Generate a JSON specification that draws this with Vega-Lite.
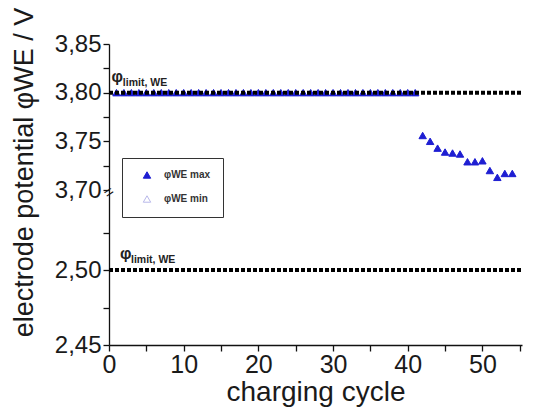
{
  "$schema": "https://vega.github.io/schema/vega-lite/v6.json",
  "width": 413,
  "height": 301,
  "autosize": {"type": "none"},
  "padding": {"left": 109, "top": 44, "right": 12, "bottom": 69},
  "background": "white",
  "config": {"view": {"stroke": null}, "font": "Liberation Sans"},
  "datasets": {
    "maxpts": [
      {"cycle": 1, "pot": 3.80, "series": "max"}, {"cycle": 2, "pot": 3.80, "series": "max"},
      {"cycle": 3, "pot": 3.80, "series": "max"}, {"cycle": 4, "pot": 3.80, "series": "max"},
      {"cycle": 5, "pot": 3.80, "series": "max"}, {"cycle": 6, "pot": 3.80, "series": "max"},
      {"cycle": 7, "pot": 3.80, "series": "max"}, {"cycle": 8, "pot": 3.80, "series": "max"},
      {"cycle": 9, "pot": 3.80, "series": "max"}, {"cycle": 10, "pot": 3.80, "series": "max"},
      {"cycle": 11, "pot": 3.80, "series": "max"}, {"cycle": 12, "pot": 3.80, "series": "max"},
      {"cycle": 13, "pot": 3.80, "series": "max"}, {"cycle": 14, "pot": 3.80, "series": "max"},
      {"cycle": 15, "pot": 3.80, "series": "max"}, {"cycle": 16, "pot": 3.80, "series": "max"},
      {"cycle": 17, "pot": 3.80, "series": "max"}, {"cycle": 18, "pot": 3.80, "series": "max"},
      {"cycle": 19, "pot": 3.80, "series": "max"}, {"cycle": 20, "pot": 3.80, "series": "max"},
      {"cycle": 21, "pot": 3.80, "series": "max"}, {"cycle": 22, "pot": 3.80, "series": "max"},
      {"cycle": 23, "pot": 3.80, "series": "max"}, {"cycle": 24, "pot": 3.80, "series": "max"},
      {"cycle": 25, "pot": 3.80, "series": "max"}, {"cycle": 26, "pot": 3.80, "series": "max"},
      {"cycle": 27, "pot": 3.80, "series": "max"}, {"cycle": 28, "pot": 3.80, "series": "max"},
      {"cycle": 29, "pot": 3.80, "series": "max"}, {"cycle": 30, "pot": 3.80, "series": "max"},
      {"cycle": 31, "pot": 3.80, "series": "max"}, {"cycle": 32, "pot": 3.80, "series": "max"},
      {"cycle": 33, "pot": 3.80, "series": "max"}, {"cycle": 34, "pot": 3.80, "series": "max"},
      {"cycle": 35, "pot": 3.80, "series": "max"}, {"cycle": 36, "pot": 3.80, "series": "max"},
      {"cycle": 37, "pot": 3.80, "series": "max"}, {"cycle": 38, "pot": 3.80, "series": "max"},
      {"cycle": 39, "pot": 3.80, "series": "max"}, {"cycle": 40, "pot": 3.80, "series": "max"},
      {"cycle": 41, "pot": 3.80, "series": "max"},
      {"cycle": 42, "pot": 3.756, "series": "max"}, {"cycle": 43, "pot": 3.750, "series": "max"},
      {"cycle": 44, "pot": 3.743, "series": "max"}, {"cycle": 45, "pot": 3.739, "series": "max"},
      {"cycle": 46, "pot": 3.738, "series": "max"}, {"cycle": 47, "pot": 3.737, "series": "max"},
      {"cycle": 48, "pot": 3.729, "series": "max"}, {"cycle": 49, "pot": 3.729, "series": "max"},
      {"cycle": 50, "pot": 3.730, "series": "max"}, {"cycle": 51, "pot": 3.720, "series": "max"},
      {"cycle": 52, "pot": 3.713, "series": "max"}, {"cycle": 53, "pot": 3.717, "series": "max"},
      {"cycle": 54, "pot": 3.717, "series": "max"}
    ],
    "limits": [
      {"cycle": 0, "cycle2": 55.3, "pot": 3.80},
      {"cycle": 0, "cycle2": 55.3, "pot": 2.50}
    ],
    "labels": [
      {"cycle": 1.1, "subcycle": 1.85, "pot": 3.80, "sym": "φ", "sub": "limit, WE"},
      {"cycle": 2.25, "subcycle": 2.95, "pot": 2.50, "sym": "φ", "sub": "limit, WE"}
    ],
    "brk": [{"cycle": 0, "pot": 3.12, "mark": "="}]
  },
  "encoding": {
    "x": {
      "field": "cycle", "type": "quantitative",
      "scale": {"domain": [0, 55.3], "nice": false, "zero": false},
      "axis": {
        "values": [0, 5, 10, 15, 20, 25, 30, 35, 40, 45, 50, 55],
        "labelExpr": "datum.value % 10 == 0 ? datum.label : ''",
        "grid": false, "domainColor": "#111", "domainWidth": 1.3, "tickColor": "#111", "tickWidth": 1.3, "tickSize": 6,
        "labelFontSize": 25, "labelColor": "#1a1a1a", "labelPadding": 1, "labelFlush": false,
        "title": "charging cycle", "titleFontSize": 28, "titleFontWeight": "normal", "titleColor": "#1a1a1a",
        "titleBaseline": "alphabetic", "titleY": 55
      }
    },
    "y": {
      "field": "pot", "type": "quantitative",
      "scale": {"type": "linear", "domain": [2.45, 2.55, 3.70, 3.85], "range": [301, 151, 146, 0], "nice": false, "zero": false},
      "axis": {
        "values": [2.45, 2.475, 2.5, 2.525, 3.7, 3.725, 3.75, 3.775, 3.8, 3.825, 3.85],
        "labelExpr": "round(datum.value*1000) % 50 == 0 ? replace(format(datum.value, '.2f'), '.', ',') : ''",
        "grid": false, "domainColor": "#111", "domainWidth": 1.3, "tickColor": "#111", "tickWidth": 1.3, "tickSize": 6,
        "labelFontSize": 24, "labelColor": "#1a1a1a", "labelPadding": 2, "labelFlush": false,
        "title": "electrode potential φWE / V", "titleFontSize": 27, "titleFontWeight": "normal", "titleColor": "#1a1a1a",
        "titleAngle": -90, "titleAlign": "center", "titleBaseline": "alphabetic", "titleX": -77, "titleY": 128
      }
    }
  },
  "layer": [
    {
      "data": {"name": "maxpts"},
      "mark": {"type": "point", "shape": "triangle-up", "size": 55, "filled": true, "opacity": 1, "strokeWidth": 1},
      "encoding": {
        "fill": {"field": "series", "type": "nominal",
          "scale": {"domain": ["max", "min"], "range": ["#1e1ed2", "#ffffff"]},
          "legend": {
            "orient": "none", "legendX": 13, "legendY": 114, "title": null,
            "strokeColor": "#333", "padding": 12, "symbolSize": 55, "symbolType": "triangle-up",
            "symbolOffset": 8, "labelOffset": 12, "labelFontSize": 10, "labelFontWeight": "bold", "labelColor": "#333",
            "rowPadding": 12, "symbolStrokeWidth": 1,
            "labelExpr": "datum.value == 'max' ? 'φWE max' : 'φWE min'"
          }
        },
        "stroke": {"field": "series", "type": "nominal",
          "scale": {"domain": ["max", "min"], "range": ["#1e1ed2", "#b8b8ea"]},
          "legend": {
            "orient": "none", "legendX": 13, "legendY": 114, "title": null,
            "strokeColor": "#333", "padding": 12, "symbolSize": 55, "symbolType": "triangle-up",
            "symbolOffset": 8, "labelOffset": 12, "labelFontSize": 10, "labelFontWeight": "bold", "labelColor": "#333",
            "rowPadding": 12, "symbolStrokeWidth": 1,
            "labelExpr": "datum.value == 'max' ? 'φWE max' : 'φWE min'"
          }
        }
      }
    },
    {
      "data": {"name": "limits"},
      "mark": {"type": "rule", "color": "#000", "strokeWidth": 4, "strokeDash": [4, 2]},
      "encoding": {"x2": {"field": "cycle2"}}
    },
    {
      "data": {"name": "labels"},
      "mark": {"type": "text", "fontSize": 16, "fontWeight": "bold", "color": "#222", "align": "center", "baseline": "alphabetic", "dy": -11},
      "encoding": {"text": {"field": "sym"}}
    },
    {
      "data": {"name": "labels"},
      "mark": {"type": "text", "fontSize": 10.5, "fontWeight": "bold", "color": "#222", "align": "left", "baseline": "alphabetic", "dy": -7},
      "encoding": {"x": {"field": "subcycle", "type": "quantitative"}, "text": {"field": "sub"}}
    },
    {
      "data": {"name": "brk"},
      "mark": {"type": "text", "fontSize": 16, "color": "#111", "align": "center", "baseline": "middle", "angle": -35, "clip": false},
      "encoding": {"text": {"field": "mark"}}
    }
  ]
}
